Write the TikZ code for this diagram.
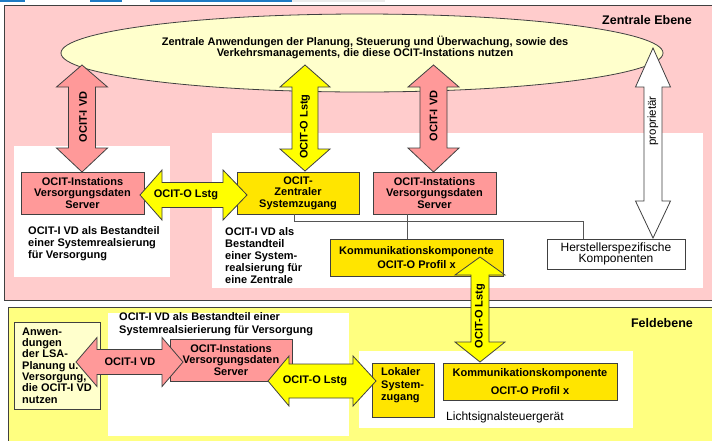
\documentclass[tikz,border=0pt]{standalone}
\usepackage{fontspec}
\setmainfont{Liberation Sans}
\usetikzlibrary{shapes.geometric}

\definecolor{panelpink}{HTML}{FFCCCC}
\definecolor{panelyellow}{HTML}{FFFF80}
\definecolor{srvpink}{HTML}{FF9999}
\definecolor{gold}{HTML}{FFE500}
\definecolor{arrowyellow}{HTML}{FFFF00}
\definecolor{paleyellow}{HTML}{FFFFCC}
\definecolor{edge}{HTML}{404040}
\definecolor{linegray}{HTML}{555555}
\definecolor{tabblue}{HTML}{1E7BC4}

% vertical double block arrow: x, top tip, bottom tip, half shaft, half head, top head length, bottom head length, style
\newcommand\VArrow[8]{%
  \filldraw[#8] (#1,#2) -- ({#1+#5},{#2+#6}) -- ({#1+#4},{#2+#6}) -- ({#1+#4},{#3-#7})
    -- ({#1+#5},{#3-#7}) -- (#1,#3) -- ({#1-#5},{#3-#7}) -- ({#1-#4},{#3-#7})
    -- ({#1-#4},{#2+#6}) -- ({#1-#5},{#2+#6}) -- cycle;}
% horizontal double block arrow: y, left tip, right tip, half shaft, half head, left head length, right head length, style
\newcommand\HArrow[8]{%
  \filldraw[#8] (#2,#1) -- ({#2+#6},{#1-#5}) -- ({#2+#6},{#1-#4}) -- ({#3-#7},{#1-#4})
    -- ({#3-#7},{#1-#5}) -- (#3,#1) -- ({#3-#7},{#1+#5}) -- ({#3-#7},{#1+#4})
    -- ({#2+#6},{#1+#4}) -- ({#2+#6},{#1+#5}) -- cycle;}

\tikzset{
  lbl/.style={font=\bfseries\fontsize{11}{11.5}\selectfont, inner sep=0pt, text=black},
  lblL/.style={lbl, align=left, anchor=north west},
  plain/.style={font=\fontsize{12}{13}\selectfont, inner sep=0pt, text=black},
  box/.style={draw=edge, line width=0.8pt, inner sep=0pt, align=center, lbl},
  pinkbox/.style={box, fill=srvpink},
  goldbox/.style={box, fill=gold},
  whitebox/.style={box, fill=white},
  conn/.style={draw=linegray, line width=0.8pt},
  barrow/.style={draw=edge, line width=0.8pt},
  title/.style={font=\bfseries\fontsize{12.5}{14}\selectfont, inner sep=0pt, text=black},
}

\begin{document}
\begin{tikzpicture}[x=1pt,y=-1pt]
\useasboundingbox (0,0) rectangle (712,440);
\clip (0,0) rectangle (712,440);
\fill[white] (0,0) rectangle (712,440);

% window strip along the top edge
\fill[tabblue] (0,0) rectangle (25,2);
\fill[tabblue] (90,0) rectangle (122,2);
\fill[tabblue] (150,0) rectangle (292,2);
\fill[black!8] (292,0) rectangle (385,2);

% level panels
\filldraw[fill=panelpink, draw=edge, line width=0.8pt] (4,5) rectangle (720,300);
\filldraw[fill=panelyellow, draw=edge, line width=0.8pt] (8,307) rectangle (720,450);

% white background areas
\fill[white] (14,146) rectangle (170,277);
\fill[white] (212,133) rectangle (703,288);
\fill[white] (108,313) rectangle (349,436);
\fill[white] (359,351) rectangle (633,428);

% central applications
\node[ellipse, draw=edge, line width=0.8pt, fill=paleyellow, minimum width=602pt, minimum height=78pt, inner sep=0pt] (app) at (362,53) {};
\node[lbl, align=center, font=\bfseries\fontsize{11}{11}\selectfont] (apptext) at (365,47.5)
  {Zentrale Anwendungen der Planung, Steuerung und Überwachung, sowie des\\Verkehrsmanagements, die diese OCIT-Instations nutzen};
\node[title] (zentral) at (647,20) {Zentrale Ebene};

% central level components
\node[pinkbox, minimum width=123pt, minimum height=42pt] (vs1) at (82.5,193) {OCIT-Instations\\Versorgungsdaten\\Server};
\node[goldbox, minimum width=122pt, minimum height=42pt] (zs) at (298,193) {OCIT-\\Zentraler\\Systemzugang};
\node[pinkbox, minimum width=123pt, minimum height=42pt] (vs2) at (434.5,193) {OCIT-Instations\\Versorgungsdaten\\Server};
\node[goldbox, minimum width=173pt, minimum height=37pt] (kk) at (416.5,257.5) {Kommunikationskomponente\\[3pt]OCIT-O Profil x};
\node[whitebox, minimum width=138pt, minimum height=30pt, font=\fontsize{12}{11.5}\selectfont] (hs) at (616,254) {Herstellerspezifische\\Komponenten};

\draw[conn] ([xshift=-4pt]zs.south) -- ++(0,7) -| ([xshift=-33pt]hs.north);
\draw[conn] ([xshift=-27.5pt]vs2.south) -- ([xshift=-27.5pt]vs2.south |- kk.north);

\node[lblL, font=\bfseries\fontsize{11}{12}\selectfont] (t1) at (28,226.5) {OCIT-I VD als Bestandteil\\einer Systemrealsierung\\für Versorgung};
\node[lblL, font=\bfseries\fontsize{11}{12}\selectfont] (t2) at (225,227.5) {OCIT-I VD als\\Bestandteil\\einer System-\\realsierung für\\eine Zentrale};

% central level interfaces
\VArrow{82}{65}{172}{13.5}{25.5}{22}{24}{barrow, fill=srvpink}
\node[lbl, rotate=90] (a1) at (83,117) {OCIT-I VD};
\VArrow{305}{65}{171}{13}{25}{22}{22}{barrow, fill=arrowyellow}
\node[lbl, rotate=90] (a2) at (305,126.5) {OCIT-O Lstg};
\VArrow{433.5}{65}{172}{13.5}{25.5}{22}{24}{barrow, fill=srvpink}
\node[lbl, rotate=90] (a3) at (433.5,116) {OCIT-I VD};
\VArrow{653}{48}{238}{9}{17.5}{39}{37}{barrow, fill=white}
\node[plain, rotate=90, font=\fontsize{11.5}{12}\selectfont] (a4) at (653,121) {proprietär};
\HArrow{195}{140}{247}{12.5}{25}{22}{24}{barrow, fill=arrowyellow}
\node[lbl] (a5) at (186,195) {OCIT-O Lstg};

% field level
\node[title] (feld) at (662,323) {Feldebene};
\node[box, fill=paleyellow, minimum width=86pt, minimum height=87pt] (la) at (57,365.5) {};
\node[lblL, font=\bfseries\fontsize{11}{11.33}\selectfont] (latext) at (22,327.5) {Anwen-\\dungen\\der LSA-\\Planung u.\\Versorgung,\\die OCIT-I VD\\nutzen};
\node[lblL, font=\bfseries\fontsize{11}{13}\selectfont] (t3) at (119,312.5) {OCIT-I VD als Bestandteil einer\\Systemrealsierierung für Versorgung};
\node[pinkbox, minimum width=122pt, minimum height=42pt] (fs) at (231,360) {OCIT-Instations\\Versorgungsdaten\\Server};
\node[goldbox, minimum width=62pt, minimum height=54pt] (lz) at (403,390) {};
\node[lblL, font=\bfseries\fontsize{11}{12.5}\selectfont] (lztext) at (381,367.5) {Lokaler\\System-\\zugang};
\node[goldbox, minimum width=174pt, minimum height=37pt] (fk) at (530,381.5) {Kommunikationskomponente\\[6pt]OCIT-O Profil x};
\node[plain, anchor=west] (lsg) at (446,417) {Lichtsignalsteuergerät};

% field level interfaces
\HArrow{362}{76}{183}{12.5}{24.5}{21}{21}{barrow, fill=srvpink}
\node[lbl] (a6) at (130,362) {OCIT-I VD};
\HArrow{381}{268}{376}{17}{25}{21}{23}{barrow, fill=arrowyellow}
\node[lbl] (a7) at (315,381) {OCIT-O Lstg};
\VArrow{480}{257}{362}{9}{25}{18}{20}{barrow, fill=arrowyellow}
\node[lbl, rotate=90] (a8) at (480,316) {OCIT-O Lstg};
\end{tikzpicture}
\end{document}
